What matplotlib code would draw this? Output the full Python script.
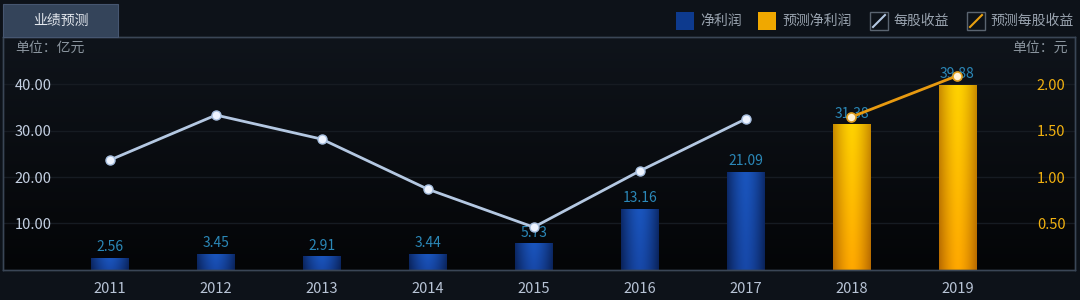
import matplotlib
matplotlib.use('Agg')
from matplotlib import pyplot as plt
from matplotlib.patches import Rectangle
from matplotlib.lines import Line2D
from matplotlib.colors import to_rgb
import numpy as np

# Data
years = ['2011', '2012', '2013', '2014', '2015', '2016', '2017', '2018', '2019']
profit = [2.56, 3.45, 2.91, 3.44, 5.73, 13.16, 21.09, None, None]
profit_fc = [None, None, None, None, None, None, None, 31.38, 39.88]
eps = [1.185, 1.67, 1.41, 0.87, 0.46, 1.066, 1.627, None, None]
eps_fc = [None, None, None, None, None, None, None, 1.65, 2.095]
left_ticks = [10, 20, 30, 40]
right_ticks = [0.5, 1.0, 1.5, 2.0]

plt.rcParams['font.family'] = ['Noto Sans CJK SC', 'DejaVu Sans']

bg = '#0b0e13'
fig = plt.figure(figsize=(10.8, 3.0), dpi=100, facecolor='#0d1219')
ax = fig.add_axes([3 / 1080, 30.2 / 300, 1072 / 1080, 232.8 / 300])
ax.set_facecolor(bg)

x = np.arange(len(years))
ax.set_xlim(-1.01, 9.11)
ax.set_ylim(0, 50.25)

# background gradient inside the plot
grad = np.linspace(0, 1, 256).reshape(-1, 1)
ax.imshow(grad, extent=(-1.01, 9.11, 0, 50.25), aspect='auto', origin='lower',
          cmap=matplotlib.colors.LinearSegmentedColormap.from_list('bgc', ['#040507', '#0f141b']),
          zorder=0)

for t in left_ticks:
    ax.axhline(t, color='#161b22', lw=1, zorder=1)


def bar_image(edge_bot, mid_bot, edge_top, mid_top, n=64):
    # horizontal: edge-mid-edge, vertical: bottom->top blend
    u = np.linspace(-1, 1, n)
    hw = 1 - np.abs(u) ** 1.6
    v = np.linspace(0, 1, n).reshape(-1, 1)
    eb, mb, et, mt = [np.array(to_rgb(c)) for c in (edge_bot, mid_bot, edge_top, mid_top)]
    edge = eb * (1 - v[..., None]) + et * v[..., None]
    mid = mb * (1 - v[..., None]) + mt * v[..., None]
    img = edge * (1 - hw[None, :, None]) + mid * hw[None, :, None]
    return np.clip(img, 0, 1)


def gradient_bars(vals, colours):
    xs = [i for i, v in enumerate(vals) if v is not None]
    hs = [v for v in vals if v is not None]
    bars = ax.bar(xs, hs, width=0.35, color='none', zorder=2)
    img = bar_image(*colours)
    for b in bars:
        x0, w, h = b.get_x(), b.get_width(), b.get_height()
        im = ax.imshow(img, extent=(x0, x0 + w, 0, h), aspect='auto', origin='lower', zorder=2)
        im.set_clip_path(b)
    for xi, hi in zip(xs, hs):
        ax.text(xi, hi + 0.8, f'{hi:.2f}', ha='center', va='bottom', color='#2b88b8',
                fontsize=10, zorder=3)


gradient_bars(profit, ('#0a2258', '#1748a8', '#0c2a6a', '#1a55bd'))
gradient_bars(profit_fc, ('#b86a00', '#ffa800', '#c88a00', '#ffd200'))

ax2 = ax.twinx()
ax2.set_ylim(0, 50.25 / 20)
ex = [i for i, v in enumerate(eps) if v is not None]
ey = [v for v in eps if v is not None]
ax2.plot(ex, ey, color='#b4c8e2', lw=2, marker='o', ms=6.5, mfc='#eef4ff',
         mec='#a8c0e0', mew=1, zorder=4)
fx = [i for i, v in enumerate(eps_fc) if v is not None]
fy = [v for v in eps_fc if v is not None]
ax2.plot(fx, fy, color='#e89a10', lw=2, marker='o', ms=6.5, mfc='#fff2d8',
         mec='#e0a020', mew=1.2, zorder=4)

# ticks: drawn inside the plot
ax.set_yticks([])
ax2.set_yticks([])
for t in left_ticks:
    ax.text(-0.90, t, f'{t:.2f}', ha='left', va='center_baseline', color='#c4d0e2', fontsize=10.5)
for t in right_ticks:
    ax2.text(9.02, t, f'{t:.2f}', ha='right', va='center_baseline', color='#f0b010', fontsize=10.5)
ax.set_xticks(x)
ax.set_xticklabels(years, color='#b8c4d6', fontsize=10.5)
ax.tick_params(axis='x', length=0, pad=9)

for a in (ax, ax2):
    for s in a.spines.values():
        s.set_color('#3a4656')
        s.set_linewidth(1)

ax.text(0.011, 0.985, '单位：亿元', transform=ax.transAxes, ha='left', va='top',
        color='#8a949e', fontsize=10)
ax.text(0.993, 0.985, '单位：元', transform=ax.transAxes, ha='right', va='top',
        color='#8a949e', fontsize=10)

# tab title
fig.patches.append(Rectangle((3 / 1080, 263 / 300), 115 / 1080, 33 / 300, transform=fig.transFigure,
                             facecolor='#34445a', edgecolor='#465670', lw=0.8))
fig.text(61 / 1080, 279 / 300, '业绩预测', ha='center', va='center', color='#e4e8ee', fontsize=10)

# legend
leg_y = 279 / 300
sq_w, sq_h = 18 / 1080, 18 / 300
fig.patches.append(Rectangle((676 / 1080, leg_y - sq_h / 2), sq_w, sq_h, transform=fig.transFigure,
                             facecolor='#0d3a8e', edgecolor='none'))
fig.text(700 / 1080, leg_y, '净利润', ha='left', va='center', color='#9aa4b0', fontsize=10)
fig.patches.append(Rectangle((758 / 1080, leg_y - sq_h / 2), sq_w, sq_h, transform=fig.transFigure,
                             facecolor='#f0a800', edgecolor='none'))
fig.text(782 / 1080, leg_y, '预测净利润', ha='left', va='center', color='#9aa4b0', fontsize=10)
for x0, lc, label in [(870, '#b4c8e2', '每股收益'), (967, '#e8a010', '预测每股收益')]:
    fig.patches.append(Rectangle((x0 / 1080, leg_y - sq_h / 2), sq_w, sq_h, transform=fig.transFigure,
                                 facecolor='none', edgecolor='#5a6470', lw=1))
    fig.lines.append(Line2D([(x0 + 3) / 1080, (x0 + 15) / 1080],
                            [leg_y - 6 / 300, leg_y + 6 / 300], transform=fig.transFigure,
                            color=lc, lw=1.5))
    fig.text((x0 + 23) / 1080, leg_y, label, ha='left', va='center', color='#9aa4b0', fontsize=10)

fig.savefig('out.png', dpi=100, facecolor=fig.get_facecolor())
